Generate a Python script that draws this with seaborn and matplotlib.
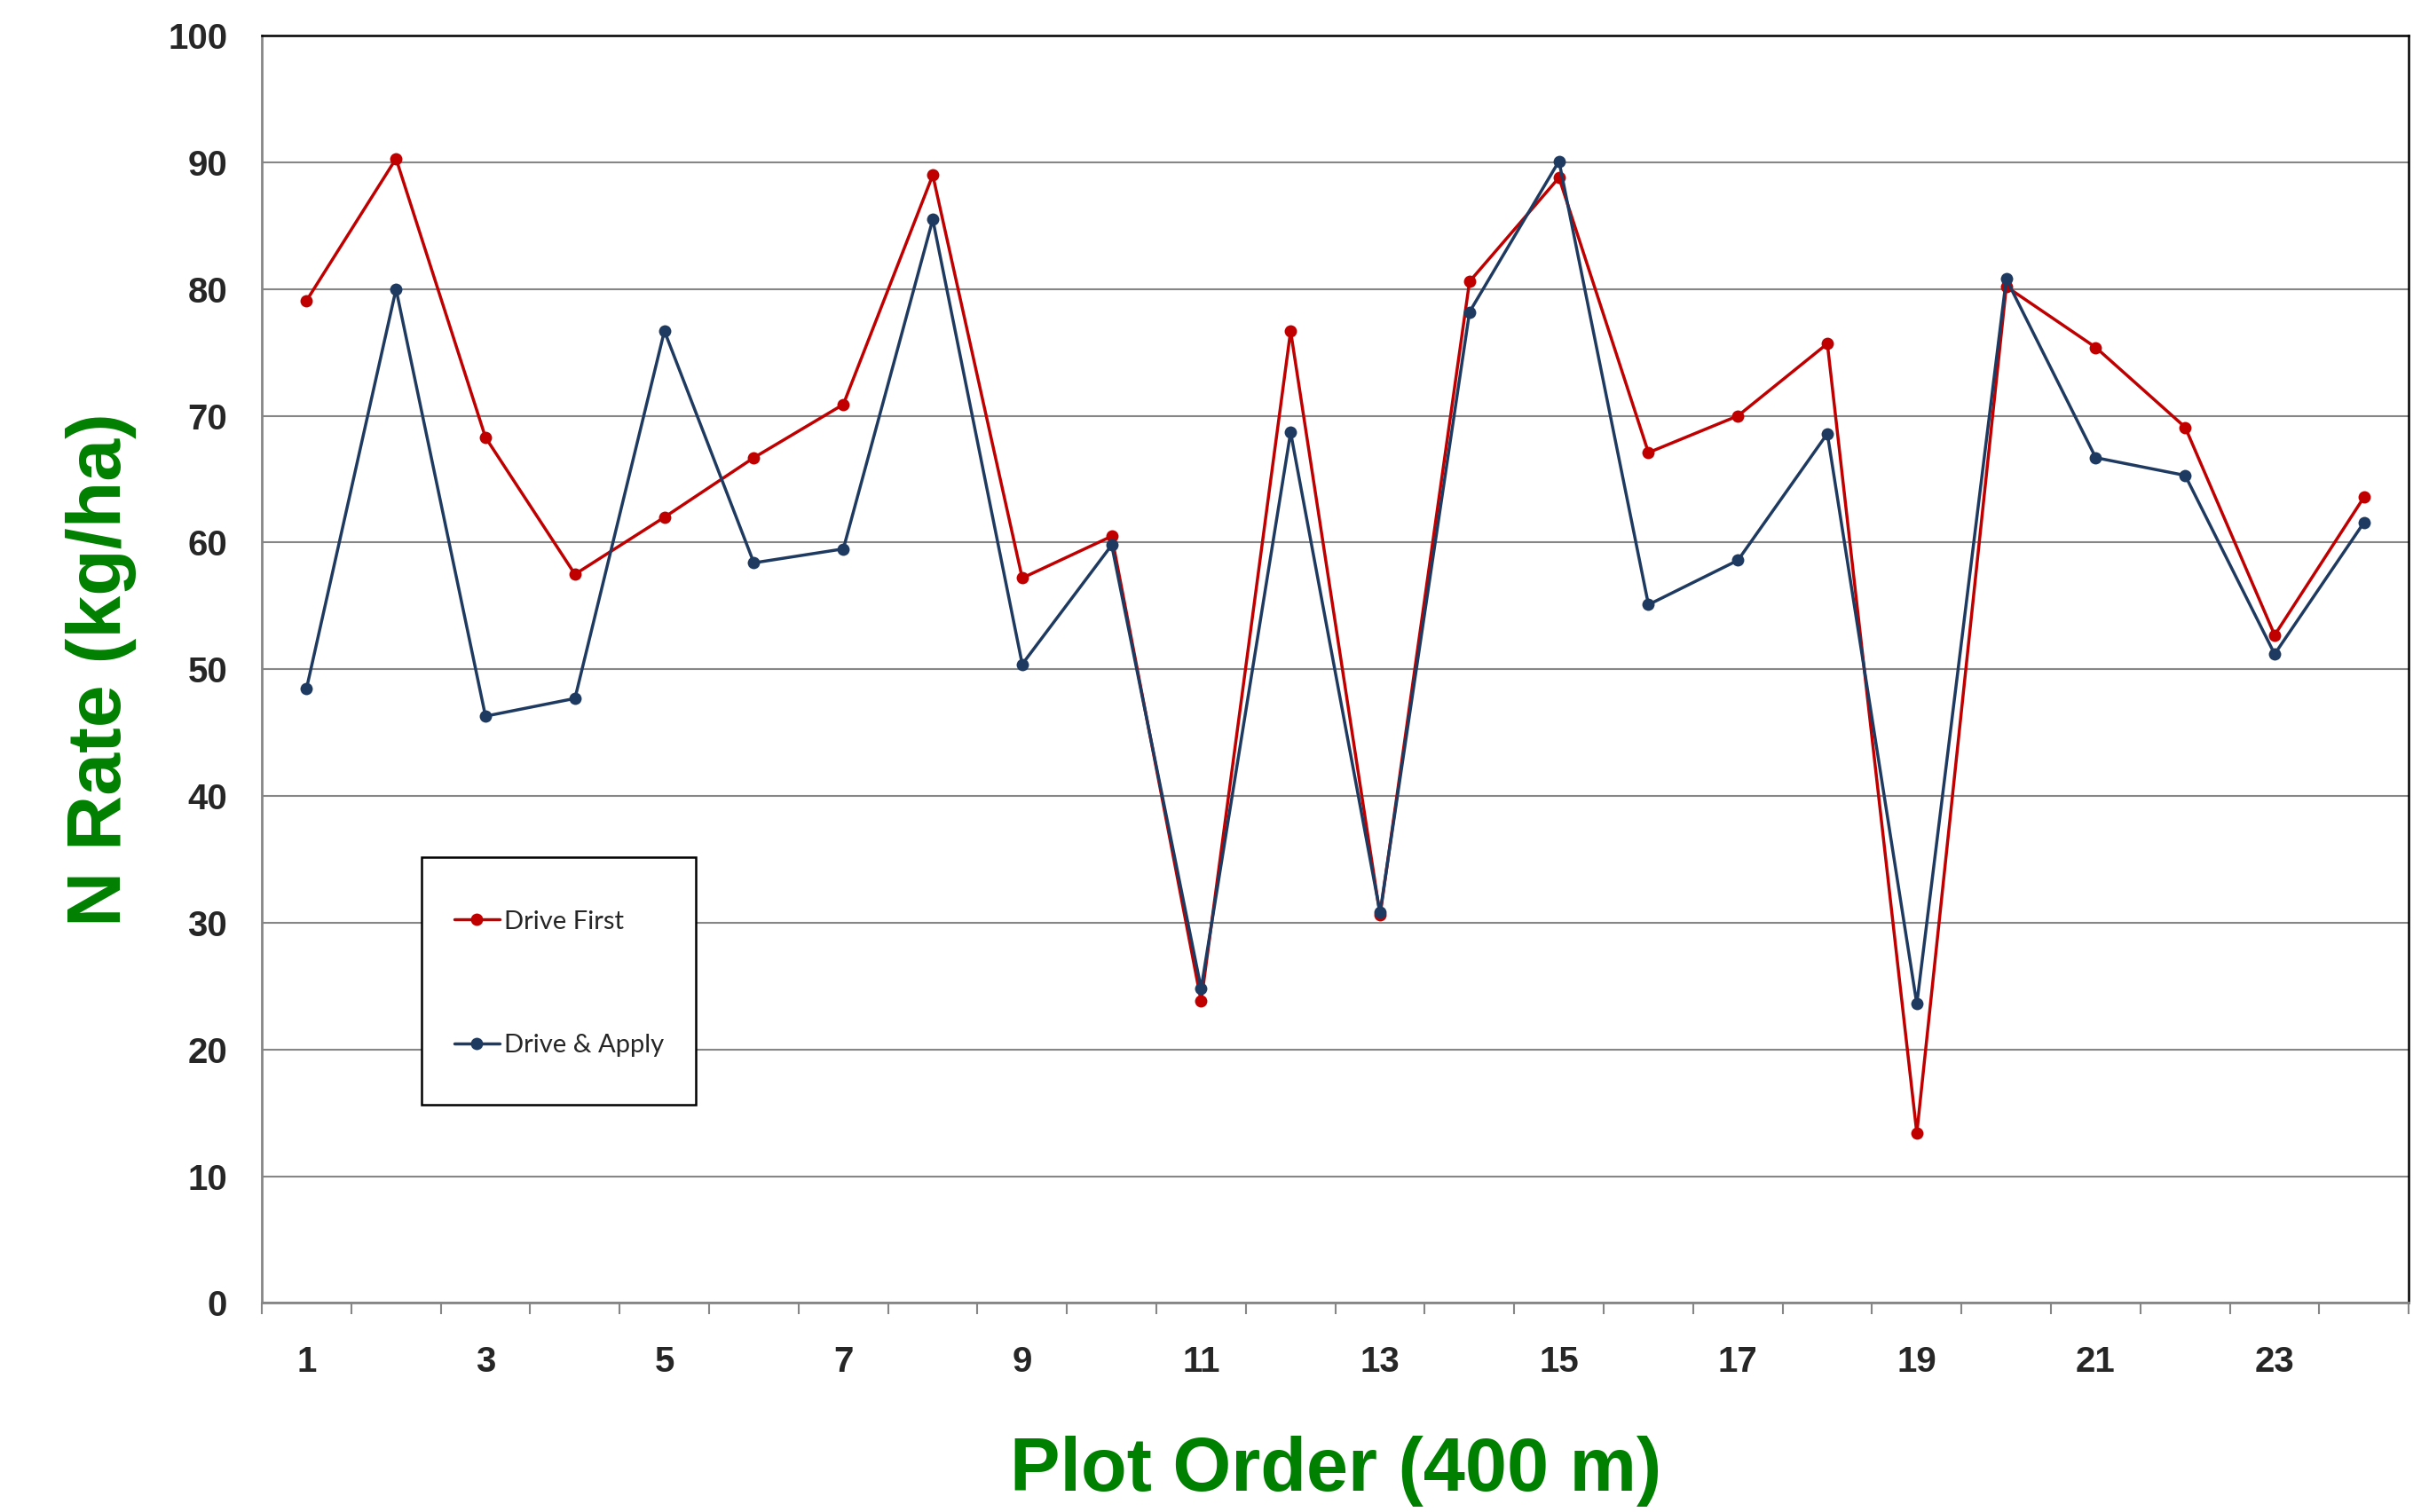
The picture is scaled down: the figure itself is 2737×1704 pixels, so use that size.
import seaborn as sns
import matplotlib.pyplot as plt
import pandas as pd
from matplotlib.ticker import MultipleLocator
from matplotlib.patches import Rectangle

# plot order 1..24
plot_order = list(range(1, 25))
drive_first = [79.1, 90.3, 68.3, 57.5, 62.0, 66.7, 70.9, 89.0, 57.2, 60.5, 23.8, 76.7,
               30.6, 80.6, 88.8, 67.1, 70.0, 75.7, 13.4, 80.2, 75.4, 69.1, 52.7, 63.6]
drive_apply = [48.5, 80.0, 46.3, 47.7, 76.7, 58.4, 59.5, 85.5, 50.4, 59.8, 24.8, 68.7,
               30.8, 78.2, 90.1, 55.1, 58.6, 68.6, 23.6, 80.8, 66.7, 65.3, 51.2, 61.6]
series_names = ['Drive First', 'Drive & Apply']
series_colors = ['#C00000', '#1F3A60']
x_labels = [1, 3, 5, 7, 9, 11, 13, 15, 17, 19, 21, 23]

df = pd.DataFrame({
    'plot': plot_order * 2,
    'rate': drive_first + drive_apply,
    'series': [series_names[0]] * 24 + [series_names[1]] * 24,
})

sns.set_style('white')
plt.rcParams['font.family'] = ['Liberation Sans', 'DejaVu Sans']

fig = plt.figure(figsize=(27.37, 17.04), dpi=100)
ax = fig.add_axes([0.1078, 0.1383, 0.8839, 0.8381])

sns.lineplot(data=df, x='plot', y='rate', hue='series', hue_order=series_names,
             palette=series_colors, marker='o', markersize=10, markeredgewidth=0,
             linewidth=2.5, ax=ax)

ax.set_xlim(0.5, 24.5)
ax.set_ylim(0, 100)
ax.yaxis.set_major_locator(MultipleLocator(10))
ax.set_xticks(x_labels)
ax.set_xticklabels([str(v) for v in x_labels])
ax.xaxis.set_minor_locator(MultipleLocator(1, offset=0.5))

ax.grid(axis='y', color='#868686', linewidth=1.5)
ax.set_axisbelow(True)

for side in ['left', 'bottom']:
    ax.spines[side].set_color('#868686')
    ax.spines[side].set_linewidth(2)
for side in ['top', 'right']:
    ax.spines[side].set_color('black')
    ax.spines[side].set_linewidth(1.8)

ax.tick_params(axis='y', which='major', direction='out', length=9, width=1.5,
               color='#868686', pad=19, labelsize=29)
ax.tick_params(axis='x', which='major', length=0, pad=34, labelsize=29)
ax.tick_params(axis='x', which='minor', direction='out', length=9, width=1.5,
               color='#868686', bottom=True)
for lab in ax.get_xticklabels() + ax.get_yticklabels():
    lab.set_fontweight('bold')

ax.set_xlabel('Plot Order (400 m)', fontsize=61, fontweight='bold', color='#008000')
ax.set_ylabel('N Rate (kg/ha)', fontsize=62, fontweight='bold', color='#008000')
ax.xaxis.set_label_coords(0.5, -0.133)
ax.xaxis.label.set_va('center')
ax.yaxis.set_label_coords(-0.075, 0.5)
ax.yaxis.label.set_va('center')

# legend box drawn as a plain rectangle, entries placed inside it
box = Rectangle((0.0743, 0.1565), 0.1277, 0.1955, transform=ax.transAxes,
                facecolor='white', edgecolor='black', linewidth=1.8, zorder=4)
ax.add_patch(box)
leg = ax.legend(loc='upper left', bbox_to_anchor=(0.0895, 0.310), frameon=False,
                borderpad=0, labelspacing=3.9, handlelength=1.75, handletextpad=0.2,
                borderaxespad=0, prop={'family': 'Lato', 'size': 21})
leg.set_zorder(5)

fig.savefig('out.png', dpi=100)
